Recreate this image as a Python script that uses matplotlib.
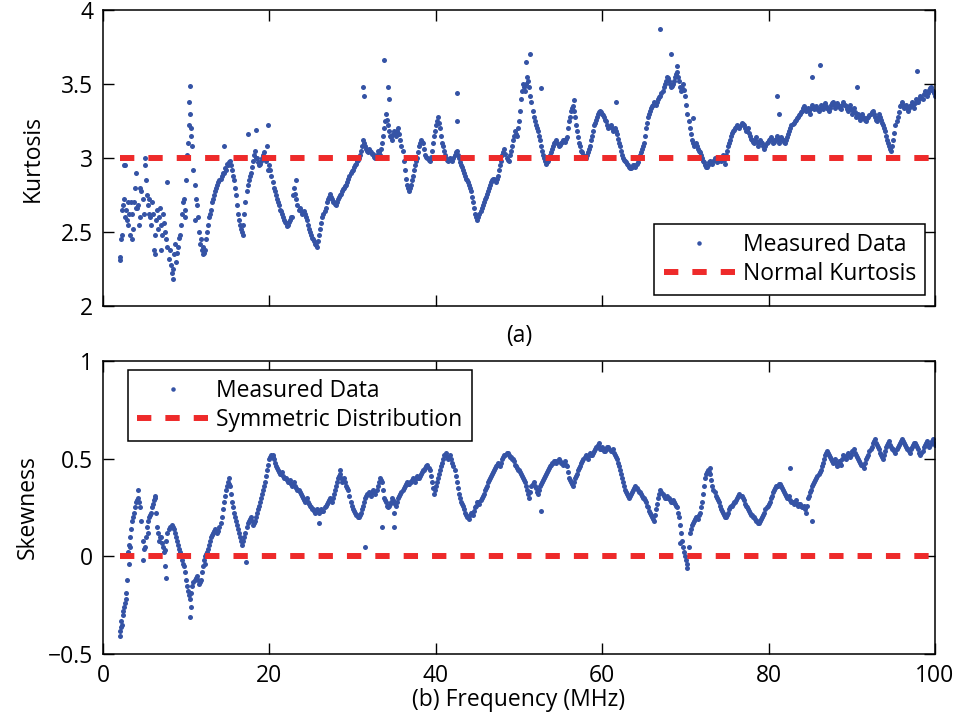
import numpy as np
import matplotlib
matplotlib.use('Agg')
import matplotlib.pyplot as plt

plt.rcParams['font.family'] = ['Open Sans', 'DejaVu Sans']

# frequency grids (MHz): readings every 0.25 MHz, plus a second pass shifted by 0.125 MHz
freq = np.arange(2.0, 100.001, 0.25)
freq_b = np.arange(2.125, 99.9, 0.25)

# kurtosis, 20 values (5 MHz) per row
kurt = [
    2.31, 2.48, 2.72, 2.65, 2.55, 2.48, 2.62, 2.70, 2.90, 2.68, 2.60, 2.72, 2.95, 2.75, 2.72, 2.55, 2.62, 2.48, 2.65, 2.60,
    2.55, 2.62, 2.50, 2.40, 2.38, 2.22, 2.35, 2.30, 2.40, 2.48, 2.62, 2.72, 2.85, 3.10, 3.30, 3.08, 2.82, 2.68, 2.50, 2.45,
    2.40, 2.38, 2.50, 2.60, 2.65, 2.72, 2.78, 2.82, 2.85, 2.88, 2.90, 2.92, 2.95, 2.98, 2.92, 2.85, 2.75, 2.62, 2.55, 2.50,
    2.62, 2.78, 2.85, 2.90, 2.98, 3.05, 3.00, 2.95, 2.98, 3.02, 3.00, 3.08, 2.95, 2.88, 2.80, 2.75, 2.70, 2.65, 2.62, 2.58,
    2.56, 2.55, 2.58, 2.60, 2.80, 2.72, 2.65, 2.64, 2.63, 2.62, 2.58, 2.52, 2.48, 2.45, 2.42, 2.40, 2.48, 2.56, 2.62, 2.66,
    2.72, 2.76, 2.72, 2.70, 2.68, 2.72, 2.75, 2.78, 2.80, 2.82, 2.86, 2.90, 2.92, 2.95, 2.98, 3.00, 3.05, 3.12, 3.08, 3.05,
    3.06, 3.04, 3.03, 3.00, 3.05, 3.02, 3.10, 3.20, 3.30, 3.22, 3.15, 3.12, 3.18, 3.15, 3.20, 3.12, 3.05, 2.92, 2.82, 2.78,
    2.82, 2.88, 2.95, 3.00, 3.08, 3.12, 3.10, 3.02, 3.00, 2.98, 3.05, 3.15, 3.22, 3.28, 3.20, 3.10, 3.05, 3.00, 2.98, 3.00,
    2.98, 3.02, 3.05, 3.00, 2.95, 2.92, 2.88, 2.85, 2.82, 2.78, 2.70, 2.62, 2.58, 2.62, 2.66, 2.70, 2.74, 2.78, 2.82, 2.85,
    2.86, 2.84, 2.88, 2.95, 3.02, 3.06, 3.00, 2.98, 3.05, 3.12, 3.18, 3.15, 3.25, 3.40, 3.50, 3.45, 3.55, 3.48, 3.38, 3.28,
    3.22, 3.18, 3.12, 3.05, 3.00, 2.96, 2.98, 3.02, 3.06, 3.10, 3.12, 3.08, 3.10, 3.12, 3.11, 3.14, 3.25, 3.32, 3.35, 3.28,
    3.18, 3.10, 3.05, 3.02, 3.00, 3.04, 3.08, 3.15, 3.22, 3.26, 3.30, 3.32, 3.30, 3.28, 3.25, 3.20, 3.22, 3.18, 3.20, 3.16,
    3.10, 3.05, 3.00, 2.98, 2.96, 2.94, 2.93, 2.95, 2.94, 2.97, 3.02, 3.06, 3.10, 3.20, 3.28, 3.32, 3.35, 3.38, 3.36, 3.40,
    3.42, 3.45, 3.50, 3.55, 3.52, 3.48, 3.50, 3.55, 3.58, 3.52, 3.45, 3.50, 3.42, 3.30, 3.20, 3.12, 3.08, 3.10, 3.06, 3.04,
    3.00, 2.97, 2.94, 2.95, 2.98, 2.96, 3.00, 2.97, 3.00, 2.98, 3.02, 2.96, 3.05, 3.10, 3.15, 3.18, 3.20, 3.22, 3.20, 3.24,
    3.22, 3.18, 3.20, 3.15, 3.12, 3.10, 3.14, 3.08, 3.12, 3.10, 3.06, 3.10, 3.12, 3.14, 3.10, 3.12, 3.15, 3.10, 3.14, 3.12,
    3.10, 3.14, 3.18, 3.22, 3.24, 3.26, 3.28, 3.30, 3.32, 3.35, 3.32, 3.34, 3.30, 3.36, 3.33, 3.35, 3.32, 3.36, 3.33, 3.37,
    3.34, 3.32, 3.36, 3.38, 3.34, 3.37, 3.35, 3.33, 3.38, 3.35, 3.32, 3.36, 3.30, 3.34, 3.28, 3.30, 3.26, 3.30, 3.27, 3.25,
    3.28, 3.30, 3.32, 3.28, 3.25, 3.30, 3.26, 3.22, 3.18, 3.12, 3.08, 3.05, 3.12, 3.22, 3.28, 3.35, 3.38, 3.34, 3.36, 3.32,
    3.35, 3.38, 3.34, 3.40, 3.38, 3.42, 3.40, 3.45, 3.42, 3.46, 3.48, 3.45, 3.42,
]

kurt_b = [
    2.45, 2.68, 2.95, 2.58, 2.62, 2.70, 2.52, 2.80, 2.66, 2.55, 2.78, 2.62, 2.85, 2.68, 2.60, 2.70, 2.38, 2.58, 2.52, 2.66,
    2.48, 2.56, 2.45, 2.32, 2.28, 2.25, 2.42, 2.36, 2.46, 2.55, 2.70, 2.65, 3.02, 3.22, 3.15, 2.92, 2.72, 2.60, 2.42, 2.38,
    2.36, 2.45, 2.55, 2.62, 2.70, 2.75, 2.80, 2.84, 2.86, 2.90, 2.93, 2.96, 2.97, 2.95, 2.88, 2.80, 2.68, 2.58, 2.52, 2.55,
    2.70, 2.82, 2.88, 2.94, 3.02, 3.00, 2.97, 2.96, 3.00, 3.04, 2.98, 2.92, 2.92, 2.84, 2.78, 2.72, 2.68, 2.64, 2.60, 2.57,
    2.54, 2.57, 2.60, 2.75, 2.76, 2.68, 2.66, 2.62, 2.64, 2.60, 2.55, 2.50, 2.46, 2.44, 2.41, 2.44, 2.52, 2.60, 2.64, 2.70,
    2.74, 2.74, 2.70, 2.69, 2.70, 2.74, 2.76, 2.79, 2.81, 2.84, 2.88, 2.91, 2.94, 2.96, 2.99, 3.02, 3.08, 3.10, 3.06, 3.04,
    3.05, 3.03, 3.01, 3.02, 3.04, 3.06, 3.15, 3.25, 3.26, 3.18, 3.14, 3.16, 3.17, 3.18, 3.16, 3.08, 2.98, 2.86, 2.80, 2.80,
    2.85, 2.92, 2.98, 3.04, 3.10, 3.11, 3.06, 3.01, 2.99, 3.01, 3.10, 3.18, 3.25, 3.24, 3.15, 3.08, 3.02, 2.99, 2.99, 2.99,
    3.00, 3.04, 3.02, 2.97, 2.94, 2.90, 2.86, 2.84, 2.80, 2.74, 2.66, 2.60, 2.60, 2.64, 2.68, 2.72, 2.76, 2.80, 2.84, 2.86,
    2.85, 2.86, 2.92, 2.98, 3.04, 3.03, 2.99, 3.02, 3.08, 3.15, 3.16, 3.20, 3.32, 3.45, 3.48, 3.50, 3.52, 3.42, 3.32, 3.25,
    3.20, 3.15, 3.08, 3.02, 2.98, 2.97, 3.00, 3.04, 3.08, 3.11, 3.10, 3.09, 3.11, 3.12, 3.13, 3.20, 3.28, 3.34, 3.32, 3.22,
    3.14, 3.08, 3.04, 3.01, 3.02, 3.06, 3.12, 3.18, 3.24, 3.28, 3.31, 3.31, 3.29, 3.26, 3.22, 3.21, 3.20, 3.19, 3.18, 3.13,
    3.08, 3.02, 2.99, 2.97, 2.95, 2.93, 2.94, 2.95, 2.96, 3.00, 3.04, 3.08, 3.15, 3.24, 3.30, 3.34, 3.36, 3.37, 3.38, 3.41,
    3.44, 3.48, 3.52, 3.54, 3.50, 3.49, 3.52, 3.57, 3.55, 3.48, 3.47, 3.46, 3.36, 3.25, 3.16, 3.10, 3.09, 3.08, 3.05, 3.02,
    2.98, 2.95, 2.94, 2.97, 2.97, 2.98, 2.99, 2.98, 2.99, 3.00, 2.99, 3.02, 3.08, 3.12, 3.17, 3.19, 3.21, 3.21, 3.22, 3.23,
    3.20, 3.19, 3.17, 3.13, 3.11, 3.12, 3.11, 3.10, 3.11, 3.08, 3.08, 3.11, 3.13, 3.12, 3.11, 3.13, 3.12, 3.12, 3.13, 3.11,
    3.12, 3.16, 3.20, 3.23, 3.25, 3.27, 3.29, 3.31, 3.34, 3.33, 3.33, 3.32, 3.34, 3.34, 3.34, 3.33, 3.34, 3.35, 3.35, 3.35,
    3.33, 3.34, 3.37, 3.36, 3.35, 3.36, 3.34, 3.36, 3.36, 3.33, 3.34, 3.33, 3.32, 3.31, 3.29, 3.28, 3.28, 3.28, 3.26, 3.27,
    3.29, 3.31, 3.30, 3.26, 3.28, 3.28, 3.24, 3.20, 3.15, 3.10, 3.06, 3.08, 3.17, 3.25, 3.31, 3.36, 3.36, 3.35, 3.34, 3.34,
    3.36, 3.36, 3.37, 3.39, 3.40, 3.41, 3.43, 3.43, 3.44, 3.47, 3.46, 3.44,
]

# stray kurtosis points off the main trace
kurt_f2 = [2.0, 2.3, 2.5, 2.7, 3.0, 3.5, 4.0, 4.5, 5.0, 5.5, 6.2, 7.0, 7.7, 8.4, 9.8, 10.3, 10.5, 10.6,
           11.1, 12.0, 14.5, 16.8, 17.4, 18.4, 19.8, 23.2, 31.3, 31.4, 33.8, 34.2, 34.4, 42.6, 42.6, 50.8,
           51.3, 52.6, 56.6, 61.6, 67.0, 68.3, 69.0, 70.9, 81.0, 81.2, 85.2, 86.2, 90.6, 97.8]
kurt_v2 = [2.33, 2.65, 2.95, 2.60, 2.70, 2.45, 2.66, 2.80, 3.00, 2.62, 2.35, 2.38, 2.84, 2.18, 2.60, 3.38, 3.49, 3.20,
           2.58, 2.35, 3.08, 2.48, 3.16, 3.19, 3.22, 2.85, 3.48, 3.42, 3.66, 3.48, 3.40, 3.44, 3.25, 3.65,
           3.70, 3.47, 3.39, 3.38, 3.87, 3.70, 3.62, 3.27, 3.42, 3.30, 3.55, 3.63, 3.48, 3.59]

# skewness
skew = [
    -0.38, -0.35, -0.26, -0.22, 0.02, 0.10, 0.18, 0.22, 0.28, 0.30, 0.25, 0.08, 0.05, 0.15, 0.20, 0.22, 0.27, 0.30, 0.15, 0.08,
    0.10, 0.05, 0.03, 0.12, 0.15, 0.16, 0.14, 0.10, 0.06, 0.02, -0.02, -0.05, -0.12, -0.18, -0.22, -0.15, -0.12, -0.10, -0.14, -0.12,
    -0.05, 0.00, 0.02, 0.06, 0.10, 0.12, 0.14, 0.12, 0.15, 0.20, 0.28, 0.34, 0.38, 0.36, 0.28, 0.22, 0.18, 0.14, 0.10, 0.06,
    0.10, 0.15, 0.18, 0.20, 0.16, 0.18, 0.22, 0.26, 0.30, 0.34, 0.38, 0.44, 0.50, 0.52, 0.50, 0.46, 0.44, 0.42, 0.43, 0.40,
    0.40, 0.38, 0.39, 0.36, 0.38, 0.35, 0.34, 0.32, 0.30, 0.28, 0.30, 0.27, 0.25, 0.24, 0.22, 0.24, 0.22, 0.24, 0.23, 0.26,
    0.28, 0.30, 0.28, 0.32, 0.36, 0.40, 0.42, 0.38, 0.40, 0.36, 0.34, 0.28, 0.24, 0.22, 0.21, 0.20, 0.22, 0.26, 0.30, 0.32,
    0.33, 0.31, 0.34, 0.32, 0.36, 0.40, 0.38, 0.30, 0.28, 0.25, 0.27, 0.30, 0.28, 0.26, 0.30, 0.32, 0.34, 0.36, 0.38, 0.37,
    0.38, 0.40, 0.38, 0.41, 0.40, 0.42, 0.44, 0.45, 0.47, 0.44, 0.38, 0.32, 0.36, 0.40, 0.44, 0.48, 0.52, 0.53, 0.50, 0.52,
    0.48, 0.44, 0.38, 0.32, 0.28, 0.26, 0.22, 0.20, 0.19, 0.22, 0.21, 0.25, 0.28, 0.27, 0.30, 0.32, 0.35, 0.38, 0.40, 0.42,
    0.44, 0.46, 0.48, 0.46, 0.50, 0.52, 0.53, 0.52, 0.51, 0.50, 0.47, 0.45, 0.44, 0.42, 0.40, 0.38, 0.34, 0.30, 0.36, 0.38,
    0.35, 0.32, 0.36, 0.38, 0.40, 0.42, 0.44, 0.46, 0.48, 0.49, 0.48, 0.50, 0.48, 0.47, 0.49, 0.46, 0.40, 0.38, 0.36, 0.40,
    0.42, 0.45, 0.48, 0.50, 0.52, 0.50, 0.53, 0.52, 0.54, 0.56, 0.57, 0.55, 0.56, 0.54, 0.55, 0.56, 0.54, 0.55, 0.52, 0.50,
    0.46, 0.42, 0.38, 0.34, 0.32, 0.30, 0.32, 0.34, 0.36, 0.34, 0.33, 0.31, 0.30, 0.28, 0.25, 0.22, 0.20, 0.18, 0.24, 0.30,
    0.34, 0.32, 0.30, 0.31, 0.30, 0.28, 0.29, 0.27, 0.25, 0.20, 0.12, 0.05, 0.00, -0.04, 0.12, 0.16, 0.18, 0.20, 0.19, 0.22,
    0.28, 0.36, 0.42, 0.44, 0.42, 0.36, 0.33, 0.30, 0.28, 0.24, 0.22, 0.20, 0.21, 0.24, 0.26, 0.27, 0.28, 0.30, 0.32, 0.31,
    0.29, 0.26, 0.24, 0.22, 0.21, 0.20, 0.18, 0.17, 0.18, 0.20, 0.22, 0.25, 0.27, 0.30, 0.33, 0.35, 0.36, 0.37, 0.36, 0.34,
    0.32, 0.30, 0.31, 0.28, 0.27, 0.29, 0.26, 0.27, 0.25, 0.26, 0.22, 0.30, 0.33, 0.36, 0.38, 0.40, 0.42, 0.44, 0.48, 0.52,
    0.54, 0.52, 0.50, 0.48, 0.50, 0.46, 0.49, 0.47, 0.52, 0.50, 0.53, 0.51, 0.54, 0.55, 0.52, 0.50, 0.48, 0.47, 0.45, 0.50,
    0.52, 0.55, 0.58, 0.60, 0.57, 0.55, 0.52, 0.50, 0.54, 0.57, 0.59, 0.56, 0.55, 0.53, 0.56, 0.58, 0.60, 0.58, 0.56, 0.55,
    0.53, 0.56, 0.58, 0.57, 0.55, 0.52, 0.54, 0.57, 0.59, 0.56, 0.58, 0.60, 0.57,
]

skew_b = [
    -0.36, -0.30, -0.24, -0.12, 0.06, 0.14, 0.20, 0.25, 0.29, 0.28, 0.18, 0.04, 0.10, 0.18, 0.21, 0.25, 0.29, 0.22, 0.12, 0.10,
    0.07, 0.02, 0.08, 0.14, 0.15, 0.15, 0.12, 0.08, 0.04, 0.00, -0.04, -0.08, -0.15, -0.20, -0.19, -0.13, -0.11, -0.12, -0.13, -0.08,
    -0.02, 0.01, 0.04, 0.08, 0.11, 0.13, 0.13, 0.13, 0.17, 0.24, 0.31, 0.36, 0.37, 0.32, 0.25, 0.20, 0.16, 0.12, 0.08, 0.08,
    0.12, 0.17, 0.19, 0.18, 0.17, 0.20, 0.24, 0.28, 0.32, 0.36, 0.41, 0.47, 0.51, 0.51, 0.48, 0.45, 0.43, 0.42, 0.41, 0.40,
    0.39, 0.38, 0.37, 0.37, 0.36, 0.34, 0.33, 0.31, 0.29, 0.29, 0.28, 0.26, 0.24, 0.23, 0.23, 0.23, 0.23, 0.23, 0.25, 0.27,
    0.29, 0.29, 0.30, 0.34, 0.38, 0.41, 0.40, 0.39, 0.38, 0.35, 0.31, 0.26, 0.23, 0.21, 0.20, 0.21, 0.24, 0.28, 0.31, 0.32,
    0.32, 0.33, 0.33, 0.34, 0.38, 0.39, 0.34, 0.29, 0.26, 0.26, 0.28, 0.29, 0.27, 0.28, 0.31, 0.33, 0.35, 0.37, 0.37, 0.38,
    0.39, 0.39, 0.40, 0.40, 0.41, 0.43, 0.44, 0.46, 0.45, 0.41, 0.35, 0.34, 0.38, 0.42, 0.46, 0.50, 0.52, 0.51, 0.51, 0.50,
    0.46, 0.41, 0.35, 0.30, 0.27, 0.24, 0.21, 0.20, 0.21, 0.22, 0.23, 0.26, 0.28, 0.29, 0.31, 0.34, 0.36, 0.39, 0.41, 0.43,
    0.45, 0.47, 0.47, 0.48, 0.51, 0.52, 0.53, 0.51, 0.50, 0.49, 0.46, 0.44, 0.43, 0.41, 0.39, 0.36, 0.32, 0.33, 0.37, 0.36,
    0.33, 0.34, 0.37, 0.39, 0.41, 0.43, 0.45, 0.47, 0.48, 0.49, 0.49, 0.49, 0.48, 0.48, 0.47, 0.43, 0.39, 0.37, 0.38, 0.41,
    0.44, 0.46, 0.49, 0.51, 0.51, 0.52, 0.52, 0.53, 0.55, 0.56, 0.56, 0.55, 0.55, 0.54, 0.56, 0.55, 0.54, 0.53, 0.51, 0.48,
    0.44, 0.40, 0.36, 0.33, 0.31, 0.31, 0.33, 0.35, 0.35, 0.33, 0.32, 0.30, 0.29, 0.26, 0.23, 0.21, 0.19, 0.21, 0.27, 0.32,
    0.33, 0.31, 0.30, 0.30, 0.29, 0.28, 0.28, 0.26, 0.22, 0.16, 0.08, 0.02, -0.02, 0.05, 0.14, 0.17, 0.19, 0.20, 0.21, 0.25,
    0.32, 0.40, 0.43, 0.43, 0.39, 0.34, 0.31, 0.29, 0.26, 0.23, 0.21, 0.20, 0.22, 0.25, 0.26, 0.28, 0.29, 0.31, 0.31, 0.30,
    0.27, 0.25, 0.23, 0.21, 0.20, 0.19, 0.18, 0.17, 0.19, 0.21, 0.24, 0.26, 0.28, 0.31, 0.34, 0.36, 0.36, 0.37, 0.35, 0.33,
    0.31, 0.30, 0.29, 0.28, 0.28, 0.27, 0.27, 0.26, 0.25, 0.24, 0.26, 0.31, 0.34, 0.37, 0.39, 0.41, 0.43, 0.46, 0.50, 0.53,
    0.53, 0.51, 0.49, 0.49, 0.48, 0.47, 0.48, 0.50, 0.51, 0.52, 0.52, 0.52, 0.54, 0.53, 0.51, 0.49, 0.47, 0.46, 0.48, 0.51,
    0.54, 0.56, 0.59, 0.58, 0.56, 0.53, 0.51, 0.52, 0.56, 0.58, 0.57, 0.55, 0.54, 0.55, 0.57, 0.59, 0.59, 0.57, 0.55, 0.54,
    0.55, 0.57, 0.58, 0.56, 0.53, 0.53, 0.56, 0.58, 0.57, 0.57, 0.59, 0.58,
]

skew_f2 = [2.0, 2.2, 2.4, 2.8, 3.1, 3.3, 4.2, 4.8, 5.4, 6.2, 7.5, 7.6, 10.5, 10.6, 12.3, 15.2, 17.2, 20.4,
           26.0, 28.5, 31.5, 33.5, 35.0, 35.0, 52.6, 59.6, 69.4, 70.2, 73.0, 82.6, 85.2]
skew_v2 = [-0.41, -0.33, -0.28, -0.19, -0.04, 0.05, 0.34, -0.02, 0.12, 0.31, -0.05, -0.11, -0.31, -0.26, -0.04, 0.40, -0.03, 0.52,
           0.17, 0.44, 0.05, 0.15, 0.15, 0.22, 0.23, 0.58, 0.07, -0.06, 0.45, 0.45, 0.18]

dot_c = '#3553a5'
red_c = '#ee2a2a'
fs = 16.5

fig = plt.figure(figsize=(9.58, 7.24), dpi=100)
ax1 = fig.add_axes([0.1075, 0.5773, 0.8685, 0.4088])
ax2 = fig.add_axes([0.1075, 0.0967, 0.8685, 0.4047])

def style(ax):
    ax.tick_params(direction='in', length=8, width=1, top=True, right=True, labelsize=fs, pad=7)
    for s in ax.spines.values():
        s.set_linewidth(1.1)
    ax.set_xlim(0, 100)
    ax.set_xticks([0, 20, 40, 60, 80, 100])

def legend(ax, loc, anchor):
    leg = ax.legend(loc=loc, bbox_to_anchor=anchor, borderaxespad=0,
                    fancybox=False, edgecolor='black', fontsize=fs, handlelength=3.1,
                    handletextpad=0.35, labelspacing=0.2, borderpad=0.4, framealpha=1,
                    markerscale=0.9)
    leg.get_frame().set_linewidth(1.1)

# top: kurtosis
fk = np.concatenate([freq, freq_b, kurt_f2])
vk = np.concatenate([kurt, kurt_b, kurt_v2])
ax1.plot(fk, vk, 'o', color=dot_c, ms=3.6, mew=0, label='Measured Data')
ax1.plot([2, 100], [3, 3], color=red_c, lw=4.3, dashes=(2.4, 2.35), label='Normal Kurtosis')
style(ax1)
ax1.set_ylim(2, 4)
ax1.set_yticks([2, 2.5, 3, 3.5, 4])
ax1.set_yticklabels(['2', '2.5', '3', '3.5', '4'])
ax1.set_xticklabels([])
ax1.set_xlabel('(a)', fontsize=fs, labelpad=6)
ax1.set_ylabel('Kurtosis', fontsize=fs, labelpad=12)
legend(ax1, 'lower right', (0.988, 0.037))

# bottom: skewness
fs_ = np.concatenate([freq, freq_b, skew_f2])
vs_ = np.concatenate([skew, skew_b, skew_v2])
ax2.plot(fs_, vs_, 'o', color=dot_c, ms=3.6, mew=0, label='Measured Data')
ax2.plot([2, 100], [0, 0], color=red_c, lw=4.3, dashes=(2.4, 2.35), label='Symmetric Distribution')
style(ax2)
ax2.set_ylim(-0.5, 1)
ax2.set_yticks([-0.5, 0, 0.5, 1])
ax2.set_yticklabels(['\u22120.5', '0', '0.5', '1'])
ax2.set_xlabel('(b) Frequency (MHz)', fontsize=fs, labelpad=0)
ax2.set_ylabel('Skewness', fontsize=fs, labelpad=6)
legend(ax2, 'upper left', (0.030, 0.969))

plt.savefig('out.png', dpi=100)
